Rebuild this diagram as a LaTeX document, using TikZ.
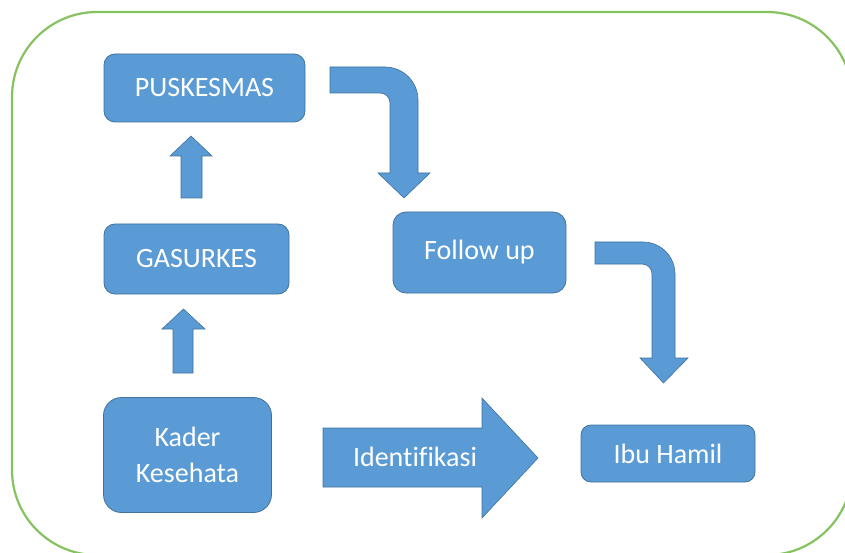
\documentclass[tikz,border=0pt]{standalone}
\usepackage{fontspec}
\setmainfont{Carlito}[Ligatures=NoCommon]

\definecolor{isibiru}{HTML}{5B9BD5}
\definecolor{garisbiru}{HTML}{41719C}
\definecolor{bingkai}{RGB}{134,194,96}

\tikzset{
  kotak/.style={draw=garisbiru, fill=isibiru, text=white, line width=0.8pt,
    font=\fontsize{28}{36}\selectfont, align=center, inner sep=0pt},
  panah/.style={draw=garisbiru, fill=isibiru, line width=0.6pt, line join=miter},
  tulisan/.style={text=white, font=\fontsize{28}{36}\selectfont, inner sep=0pt}
}

\begin{document}
\begin{tikzpicture}[x=1pt,y=-1pt]
            \useasboundingbox (0,0) rectangle (845,553);
            \draw[bingkai, line width=2.2pt, rounded corners=85pt] (12,12) rectangle (852,555);

            \node[kotak, minimum width=201pt, minimum height=68pt, rounded corners=11pt] (puskesmas) at (204.5,88) {PUSKESMAS};
            \node[kotak, minimum width=185pt, minimum height=70pt, rounded corners=11pt] (gasurkes) at (196.5,259) {GASURKES};
            \node[kotak, minimum width=168pt, minimum height=115pt, rounded corners=18pt] (kader) at (187.5,455) {Kader\\Kesehata};
            \node[kotak, minimum width=173pt, minimum height=81pt, rounded corners=13pt] (followup) at (479.5,252.5) {\raisebox{3pt}{Follow up}};
            \node[kotak, minimum width=174pt, minimum height=57pt, rounded corners=10pt] (ibuhamil) at (668,453.5) {Ibu Hamil};

            % panah ke atas
            \draw[panah] (181,198) -- (181,156) -- (170,156) -- (191,136) -- (212,156) -- (202,156) -- (202,198) -- cycle;
            \draw[panah] (173,373) -- (173,329) -- (162,329) -- (183.5,309) -- (205,329) -- (193,329) -- (193,373) -- cycle;

            % panah identifikasi
            \draw[panah] (323,428) -- (482,428) -- (482,398) -- (538,458) -- (482,518) -- (482,487) -- (323,487) -- cycle;
            \node[tulisan] (identifikasi) at (415,457) {Identifikasi};

            % panah belok
            \draw[panah] (330,67) -- (385,67) arc[start angle=-90, end angle=0, radius=33] -- (418,173) -- (430,173) -- (404,198) -- (378,173) -- (390,173) -- (390,103) arc[start angle=0, end angle=-90, radius=10] -- (330,93) -- cycle;
            \draw[panah] (595,242) -- (643,242) arc[start angle=-90, end angle=0, radius=32] -- (675,358) -- (688,358) -- (663.5,383) -- (640,358) -- (652,358) -- (652,274) arc[start angle=0, end angle=-90, radius=10] -- (595,264) -- cycle;
        \end{tikzpicture}
\end{document}
